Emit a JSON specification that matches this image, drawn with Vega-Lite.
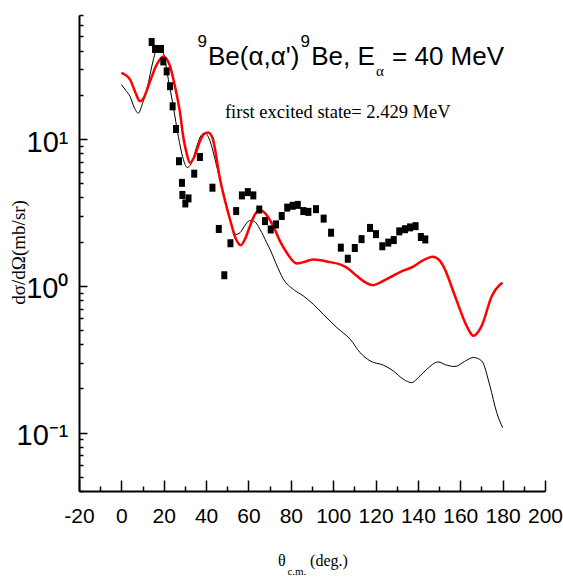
{
  "$schema": "https://vega.github.io/schema/vega-lite/v6.json",
  "autosize": {"type": "none"},
  "padding": {"left": 79, "top": 15, "right": 18, "bottom": 88},
  "width": 466,
  "height": 476,
  "background": "white",
  "config": {"view": {"stroke": null}},
  "resolve": {"axis": {"x": "independent", "y": "independent"}},
  "datasets": {
    "exp": [
      {"theta": 14.3, "xs": 45.8}, {"theta": 15.9, "xs": 41.1}, {"theta": 18.7, "xs": 41.1}, {"theta": 19.8, "xs": 33.8},
      {"theta": 21.4, "xs": 28.9}, {"theta": 23.0, "xs": 22.9}, {"theta": 24.2, "xs": 16.7}, {"theta": 25.8, "xs": 11.7},
      {"theta": 27.2, "xs": 7.06}, {"theta": 28.6, "xs": 5.03}, {"theta": 28.8, "xs": 4.16}, {"theta": 30.2, "xs": 3.64},
      {"theta": 31.7, "xs": 3.94}, {"theta": 34.4, "xs": 5.81}, {"theta": 37.1, "xs": 7.55}, {"theta": 43.0, "xs": 4.66},
      {"theta": 46.0, "xs": 2.44}, {"theta": 48.6, "xs": 1.18}, {"theta": 51.5, "xs": 1.95}, {"theta": 54.2, "xs": 3.23},
      {"theta": 56.9, "xs": 4.13}, {"theta": 59.7, "xs": 4.35}, {"theta": 62.3, "xs": 4.13}, {"theta": 65.1, "xs": 3.31},
      {"theta": 67.8, "xs": 2.76}, {"theta": 70.5, "xs": 2.42}, {"theta": 73.0, "xs": 2.62}, {"theta": 75.7, "xs": 2.99},
      {"theta": 78.3, "xs": 3.41}, {"theta": 80.9, "xs": 3.51}, {"theta": 83.3, "xs": 3.56}, {"theta": 85.9, "xs": 3.23},
      {"theta": 88.3, "xs": 3.19}, {"theta": 91.9, "xs": 3.33}, {"theta": 95.5, "xs": 2.87}, {"theta": 99.0, "xs": 2.30},
      {"theta": 103.6, "xs": 1.82}, {"theta": 106.9, "xs": 1.53}, {"theta": 110.2, "xs": 1.81}, {"theta": 113.4, "xs": 2.08},
      {"theta": 117.4, "xs": 2.48}, {"theta": 120.2, "xs": 2.25}, {"theta": 123.2, "xs": 1.86}, {"theta": 126.0, "xs": 1.97},
      {"theta": 128.6, "xs": 2.05}, {"theta": 131.2, "xs": 2.35}, {"theta": 133.9, "xs": 2.43}, {"theta": 136.3, "xs": 2.50},
      {"theta": 138.9, "xs": 2.55}, {"theta": 141.4, "xs": 2.15}, {"theta": 143.5, "xs": 2.07}
    ],
    "black": [
      {"theta": 0, "xs": 23.5}, {"theta": 2, "xs": 21.5}, {"theta": 4.1, "xs": 19.5}, {"theta": 6, "xs": 16.5},
      {"theta": 8.0, "xs": 15.0}, {"theta": 10, "xs": 17.5}, {"theta": 12.0, "xs": 21.7}, {"theta": 15.1, "xs": 34.7},
      {"theta": 17.0, "xs": 42.4}, {"theta": 19.8, "xs": 38.5}, {"theta": 22.2, "xs": 25.4}, {"theta": 24.5, "xs": 16.7},
      {"theta": 26.9, "xs": 10.4}, {"theta": 29, "xs": 7.5}, {"theta": 31.1, "xs": 6.4}, {"theta": 33, "xs": 6.8},
      {"theta": 35.5, "xs": 8.8}, {"theta": 37.5, "xs": 10.5}, {"theta": 39.5, "xs": 11.0}, {"theta": 41.5, "xs": 10.0},
      {"theta": 45.0, "xs": 6.53}, {"theta": 49.7, "xs": 3.49}, {"theta": 52, "xs": 2.6}, {"theta": 54.1, "xs": 2.24},
      {"theta": 56, "xs": 2.3}, {"theta": 58.5, "xs": 2.6}, {"theta": 60.5, "xs": 2.78}, {"theta": 62.5, "xs": 2.76}, {"theta": 65.5, "xs": 2.42},
      {"theta": 68.6, "xs": 1.97}, {"theta": 70.2, "xs": 1.77}, {"theta": 73, "xs": 1.42}, {"theta": 76.5, "xs": 1.11},
      {"theta": 81.2, "xs": 0.946}, {"theta": 85.9, "xs": 0.853}, {"theta": 90.6, "xs": 0.749}, {"theta": 95.3, "xs": 0.64},
      {"theta": 101.7, "xs": 0.52}, {"theta": 108.0, "xs": 0.433}, {"theta": 112.7, "xs": 0.351}, {"theta": 117.4, "xs": 0.308},
      {"theta": 123.7, "xs": 0.288}, {"theta": 128.4, "xs": 0.263}, {"theta": 133.1, "xs": 0.231}, {"theta": 137.1, "xs": 0.219},
      {"theta": 140.5, "xs": 0.24}, {"theta": 144.2, "xs": 0.27}, {"theta": 149.6, "xs": 0.303}, {"theta": 153, "xs": 0.29},
      {"theta": 157.5, "xs": 0.282}, {"theta": 162, "xs": 0.305}, {"theta": 166.2, "xs": 0.325}, {"theta": 170.1, "xs": 0.308},
      {"theta": 174.0, "xs": 0.208}, {"theta": 177.2, "xs": 0.137}, {"theta": 180, "xs": 0.108}
    ],
    "red": [
      {"theta": 0, "xs": 28.2}, {"theta": 4.1, "xs": 25.4}, {"theta": 6.5, "xs": 21}, {"theta": 8.8, "xs": 18.1},
      {"theta": 10.5, "xs": 19}, {"theta": 12.7, "xs": 22.9}, {"theta": 16.7, "xs": 32.1}, {"theta": 19.8, "xs": 36.5},
      {"theta": 23.0, "xs": 31.3}, {"theta": 25.3, "xs": 22.9}, {"theta": 27.7, "xs": 15.1}, {"theta": 29.2, "xs": 10.4},
      {"theta": 30.8, "xs": 8.0}, {"theta": 32.4, "xs": 6.89}, {"theta": 34.5, "xs": 7.6}, {"theta": 37, "xs": 9.6},
      {"theta": 39, "xs": 10.8}, {"theta": 41.0, "xs": 11.1}, {"theta": 43, "xs": 10.2}, {"theta": 46.6, "xs": 5.3},
      {"theta": 51.3, "xs": 2.83}, {"theta": 54, "xs": 2.1}, {"theta": 56.4, "xs": 1.89}, {"theta": 58.5, "xs": 2.1},
      {"theta": 60.7, "xs": 2.55}, {"theta": 63, "xs": 3.05}, {"theta": 65.5, "xs": 3.28}, {"theta": 68, "xs": 3.1},
      {"theta": 71.7, "xs": 2.55}, {"theta": 75, "xs": 2.0}, {"theta": 78.1, "xs": 1.68}, {"theta": 82.8, "xs": 1.42},
      {"theta": 86, "xs": 1.45}, {"theta": 90.6, "xs": 1.51}, {"theta": 98.5, "xs": 1.45}, {"theta": 103.2, "xs": 1.4},
      {"theta": 106.4, "xs": 1.33}, {"theta": 111.1, "xs": 1.17}, {"theta": 115, "xs": 1.06}, {"theta": 118.9, "xs": 1.01},
      {"theta": 122.5, "xs": 1.06}, {"theta": 126.8, "xs": 1.14}, {"theta": 132, "xs": 1.25}, {"theta": 137.8, "xs": 1.35},
      {"theta": 142, "xs": 1.48}, {"theta": 147.0, "xs": 1.58}, {"theta": 150, "xs": 1.5}, {"theta": 152.0, "xs": 1.36},
      {"theta": 157.5, "xs": 0.853}, {"theta": 163.0, "xs": 0.533}, {"theta": 166.2, "xs": 0.456}, {"theta": 170.1, "xs": 0.533},
      {"theta": 174.9, "xs": 0.853}, {"theta": 178.8, "xs": 1.02}, {"theta": 180, "xs": 1.05}
    ],
    "one": [{}]
  },
  "layer": [
    {
      "data": {"name": "black"},
      "mark": {"type": "line", "color": "black", "strokeWidth": 1, "interpolate": "monotone"},
      "encoding": {
        "x": {
          "field": "theta", "type": "quantitative", "title": null,
          "scale": {"domain": [-20, 200], "nice": false, "zero": false},
          "axis": {
            "orient": "bottom",
            "values": [-20, 0, 20, 40, 60, 80, 100, 120, 140, 160, 180, 200],
            "labelExpr": "'' + datum.value",
            "grid": false, "ticks": false, "domainColor": "black", "domainWidth": 2,
            "labelFont": "Liberation Sans", "labelFontSize": 21, "labelColor": "black",
            "labelPadding": 14, "labelOverlap": false, "labelBound": false, "labelFlush": false
          }
        },
        "y": {
          "field": "xs", "type": "quantitative", "title": null,
          "scale": {"type": "log", "domain": [0.04, 70], "nice": false},
          "axis": {
            "orient": "left",
            "values": [0.1, 1, 10],
            "labelExpr": "datum.value === 10 ? '10¹' : datum.value === 1 ? '10⁰' : '10⁻¹'",
            "grid": false, "ticks": false, "domainColor": "black", "domainWidth": 2,
            "labelFont": "Liberation Sans", "labelFontSize": 29, "labelColor": "black",
            "labelPadding": 11, "labelOffset": 3, "labelOverlap": false, "labelBound": false, "labelFlush": false, "labelBaseline": "middle"
          }
        }
      }
    },
    {
      "data": {"name": "red"},
      "mark": {"type": "line", "color": "#ff0000", "strokeWidth": 2.5, "interpolate": "monotone"},
      "encoding": {
        "x": {
          "field": "theta", "type": "quantitative", "title": null,
          "axis": {
            "orient": "top", "offset": -476,
            "values": [-20, -10, 0, 10, 20, 30, 40, 50, 60, 70, 80, 90, 100, 110, 120, 130, 140, 150, 160, 170, 180, 190, 200],
            "labels": false, "domain": false, "grid": false,
            "tickColor": "black", "tickWidth": 1.5,
            "tickSize": {"condition": {"test": "datum.value % 20 === 0", "value": 11}, "value": 5}
          }
        },
        "y": {
          "field": "xs", "type": "quantitative", "title": null,
          "axis": {
            "orient": "right", "offset": -466,
            "values": [0.04, 0.05, 0.06, 0.07, 0.08, 0.09, 0.1, 0.2, 0.3, 0.4, 0.5, 0.6, 0.7, 0.8, 0.9, 1, 2, 3, 4, 5, 6, 7, 8, 9, 10, 20, 30, 40, 50, 60, 70],
            "labels": false, "domain": false, "grid": false,
            "tickColor": "black", "tickWidth": 1.5,
            "tickSize": {"condition": {"test": "datum.value === 10 || datum.value === 1 || datum.value === 0.1", "value": 8}, "value": 4}
          }
        }
      }
    },
    {
      "data": {"name": "exp"},
      "mark": {"type": "point", "shape": "M-0.75,-1L0.75,-1L0.75,1L-0.75,1Z", "filled": true, "color": "black", "opacity": 1, "size": 64},
      "encoding": {
        "x": {"field": "theta", "type": "quantitative", "axis": null},
        "y": {"field": "xs", "type": "quantitative", "axis": null}
      }
    },
    {
      "data": {"name": "one"},
      "mark": {"type": "text", "text": "9", "font": "Liberation Sans", "fontSize": 17, "align": "left", "baseline": "alphabetic", "color": "black"},
      "encoding": {"x": {"datum": 36.0, "type": "quantitative", "axis": null}, "y": {"datum": 42.6, "type": "quantitative", "axis": null}}
    },
    {
      "data": {"name": "one"},
      "mark": {"type": "text", "text": "Be(α,α')", "font": "Liberation Sans", "fontSize": 26, "align": "left", "baseline": "alphabetic", "color": "black"},
      "encoding": {"x": {"datum": 40.9, "type": "quantitative", "axis": null}, "y": {"datum": 32.1, "type": "quantitative", "axis": null}}
    },
    {
      "data": {"name": "one"},
      "mark": {"type": "text", "text": "9", "font": "Liberation Sans", "fontSize": 17, "align": "left", "baseline": "alphabetic", "color": "black"},
      "encoding": {"x": {"datum": 84.6, "type": "quantitative", "axis": null}, "y": {"datum": 42.6, "type": "quantitative", "axis": null}}
    },
    {
      "data": {"name": "one"},
      "mark": {"type": "text", "text": "Be, E", "font": "Liberation Sans", "fontSize": 26, "align": "left", "baseline": "alphabetic", "color": "black"},
      "encoding": {"x": {"datum": 89.6, "type": "quantitative", "axis": null}, "y": {"datum": 32.1, "type": "quantitative", "axis": null}}
    },
    {
      "data": {"name": "one"},
      "mark": {"type": "text", "text": "α", "font": "Liberation Serif", "fontSize": 15, "align": "left", "baseline": "alphabetic", "color": "black"},
      "encoding": {"x": {"datum": 120.2, "type": "quantitative", "axis": null}, "y": {"datum": 27.0, "type": "quantitative", "axis": null}}
    },
    {
      "data": {"name": "one"},
      "mark": {"type": "text", "text": "= 40 MeV", "font": "Liberation Sans", "fontSize": 26, "align": "left", "baseline": "alphabetic", "color": "black"},
      "encoding": {"x": {"datum": 127.8, "type": "quantitative", "axis": null}, "y": {"datum": 32.1, "type": "quantitative", "axis": null}}
    },
    {
      "data": {"name": "one"},
      "mark": {"type": "text", "text": "first excited state= 2.429 MeV", "font": "Liberation Serif", "fontSize": 18.5, "align": "left", "baseline": "alphabetic", "color": "black"},
      "encoding": {"x": {"datum": 48.9, "type": "quantitative", "axis": null}, "y": {"datum": 14.0, "type": "quantitative", "axis": null}}
    },
    {
      "data": {"name": "one"},
      "mark": {"type": "text", "text": "dσ/dΩ(mb/sr)", "font": "Liberation Serif", "fontSize": 19, "align": "center", "baseline": "alphabetic", "angle": 270, "color": "black"},
      "encoding": {"x": {"datum": -45.5, "type": "quantitative", "axis": null}, "y": {"datum": 1.69, "type": "quantitative", "axis": null}}
    },
    {
      "data": {"name": "one"},
      "mark": {"type": "text", "text": "θ", "font": "Liberation Serif", "fontSize": 16, "align": "left", "baseline": "alphabetic", "color": "black"},
      "encoding": {"x": {"datum": 74.0, "type": "quantitative", "axis": null}, "y": {"datum": 0.0123, "type": "quantitative", "axis": null}}
    },
    {
      "data": {"name": "one"},
      "mark": {"type": "text", "text": "c.m.", "font": "Liberation Serif", "fontSize": 11, "align": "left", "baseline": "alphabetic", "color": "black"},
      "encoding": {"x": {"datum": 78.4, "type": "quantitative", "axis": null}, "y": {"datum": 0.0107, "type": "quantitative", "axis": null}}
    },
    {
      "data": {"name": "one"},
      "mark": {"type": "text", "text": "(deg.)", "font": "Liberation Serif", "fontSize": 16, "align": "left", "baseline": "alphabetic", "color": "black"},
      "encoding": {"x": {"datum": 89.1, "type": "quantitative", "axis": null}, "y": {"datum": 0.0123, "type": "quantitative", "axis": null}}
    }
  ]
}
